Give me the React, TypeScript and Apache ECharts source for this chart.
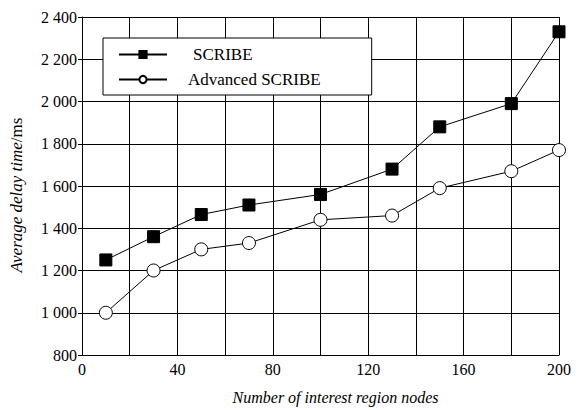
import React, { useEffect, useRef } from "react";
import * as echarts from "echarts";

const xValues = [10, 30, 50, 70, 100, 130, 150, 180, 200];
const scribe = [1250, 1360, 1465, 1510, 1560, 1680, 1880, 1990, 2330];
const advanced = [1000, 1200, 1300, 1330, 1440, 1460, 1590, 1670, 1770];
const seriesNames = ["SCRIBE", "Advanced SCRIBE"];

const FONT = "'Liberation Serif', 'Times New Roman', serif";

function fmtThousands(v: number): string {
  if (v >= 1000) {
    return `${Math.floor(v / 1000)} ${String(v % 1000).padStart(3, "0")}`;
  }
  return String(v);
}

export default function App() {
  const ref = useRef<HTMLDivElement>(null);
  useEffect(() => {
    if (!ref.current) return;
    const chart = echarts.init(ref.current, null, { renderer: "svg" });
    chart.setOption({
      animation: false,
      backgroundColor: "#ffffff",
      textStyle: { fontFamily: FONT, color: "#000" },
      grid: { left: 82, right: 21, top: 17, bottom: 54 },
      legend: {
        orient: "vertical",
        left: 103,
        top: 38,
        padding: [8, 51, 7, 15],
        itemWidth: 48,
        itemHeight: 9,
        itemGap: 8,
        backgroundColor: "#fff",
        borderColor: "#000",
        borderWidth: 1,
        formatter: (name: string) => (name === "SCRIBE" ? `{s|${name}}` : `{a|${name}}`),
        textStyle: {
          fontFamily: FONT,
          fontSize: 17,
          color: "#000",
          rich: {
            s: { fontFamily: FONT, fontSize: 17, color: "#000", padding: [0, 0, 0, 21] },
            a: { fontFamily: FONT, fontSize: 17, color: "#000", padding: [0, 0, 0, 16] },
          },
        },
        data: seriesNames,
      },
      xAxis: {
        type: "value",
        min: 0,
        max: 200,
        interval: 20,
        name: "Number of interest region nodes",
        nameLocation: "middle",
        nameGap: 34,
        nameTextStyle: { fontFamily: FONT, fontSize: 16, fontStyle: "italic", color: "#000", padding: [0, 0, 0, 30] },
        axisLine: { lineStyle: { color: "#000", width: 1 } },
        axisTick: { show: false },
        axisLabel: {
          fontFamily: FONT,
          fontSize: 16,
          color: "#000",
          margin: 6,
          formatter: (v: number) => (v % 40 === 0 ? String(v) : ""),
        },
        splitLine: { show: true, lineStyle: { color: "#000", width: 1 } },
      },
      yAxis: {
        type: "value",
        min: 800,
        max: 2400,
        interval: 200,
        name: "{i|Average delay time}{n|/ms}",
        nameLocation: "middle",
        nameGap: 57,
        nameTextStyle: {
          padding: [0, 18, 0, 0],
          rich: {
            i: { fontFamily: FONT, fontSize: 17, fontStyle: "italic", color: "#000" },
            n: { fontFamily: FONT, fontSize: 17, color: "#000" },
          },
        },
        axisLine: { show: true, lineStyle: { color: "#000", width: 1 } },
        axisTick: { show: true, inside: false, length: 4, lineStyle: { color: "#000" } },
        axisLabel: {
          fontFamily: FONT,
          fontSize: 16,
          color: "#000",
          margin: 5,
          formatter: (v: number) => fmtThousands(v),
        },
        splitLine: { show: true, lineStyle: { color: "#000", width: 1 } },
      },
      series: [
        {
          name: seriesNames[0],
          type: "line",
          data: xValues.map((x, i) => [x, scribe[i]]),
          symbol: "rect",
          symbolSize: 12,
          lineStyle: { color: "#000", width: 1 },
          itemStyle: { color: "#000", borderColor: "#000", borderWidth: 1 },
          z: 3,
        },
        {
          name: seriesNames[1],
          type: "line",
          data: xValues.map((x, i) => [x, advanced[i]]),
          symbol: "circle",
          symbolSize: 13,
          lineStyle: { color: "#000", width: 1 },
          itemStyle: { color: "#fff", borderColor: "#000", borderWidth: 1 },
          z: 3,
        },
      ],
    });
    return () => chart.dispose();
  }, []);
  return <div ref={ref} style={{ width: 580, height: 410, position: "absolute", left: 0, top: 0 }} />;
}
